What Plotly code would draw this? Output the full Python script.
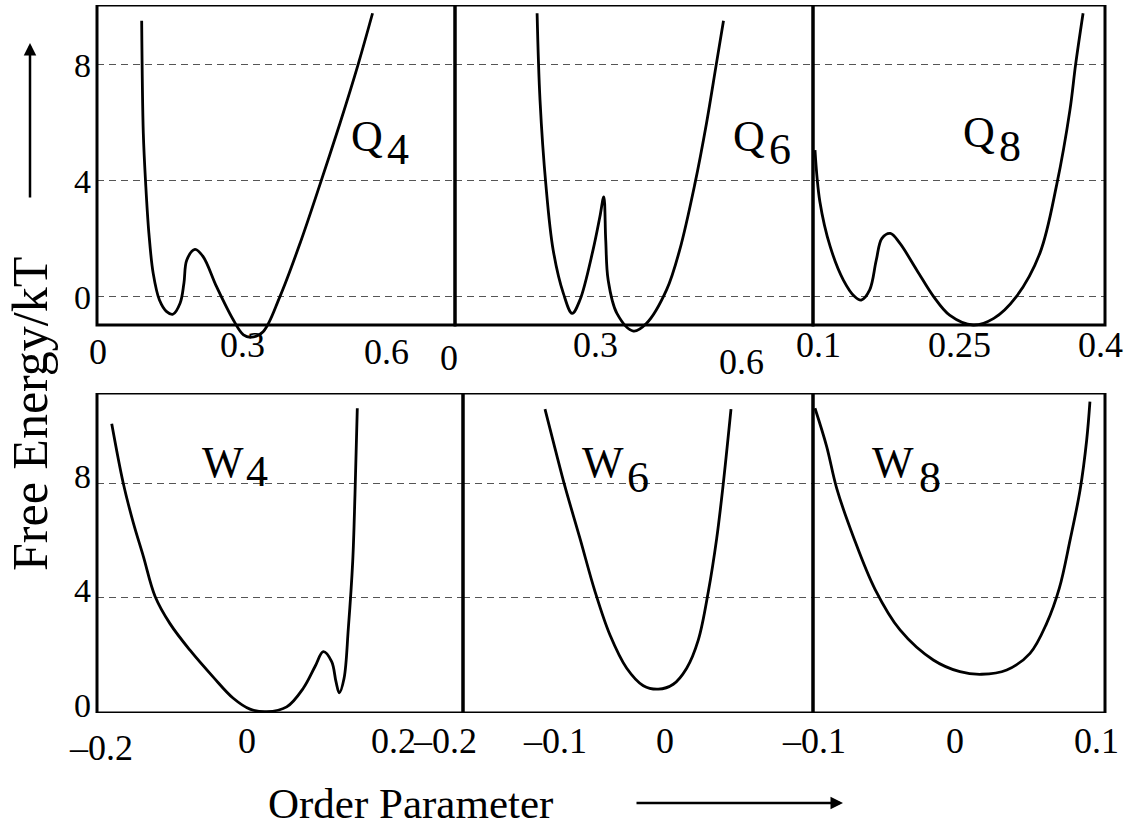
import plotly.graph_objects as go

W, H = 1132, 829
FONT = "Liberation Serif"

# ---------------- data ----------------
q4_x = [0.091, 0.0944, 0.0994, 0.106, 0.115, 0.128, 0.143, 0.156, 0.171, 0.179, 0.185, 0.202,
        0.219, 0.247, 0.282, 0.303, 0.320, 0.344, 0.379, 0.421, 0.4625, 0.504, 0.542, 0.572]
q4_y = [9.49, 5.61, 3.85, 2.17, 0.78, -0.14, -0.54, -0.63, -0.25, 0.44, 1.24, 1.61,
        1.36, 0.32, -0.83, -1.34, -1.42, -1.23, -0.02, 1.82, 3.85, 5.95, 7.99, 9.75]

q6_x = [0.181, 0.187, 0.199, 0.214, 0.235, 0.253, 0.269, 0.296, 0.310, 0.318, 0.322,
        0.327, 0.345, 0.379, 0.406, 0.447, 0.474, 0.505, 0.529, 0.549, 0.564]
q6_y = [9.75, 6.76, 3.85, 1.59, 0.09, -0.6, -0.14, 1.59, 2.73, 3.42, 1.93,
        0.55, -0.6, -1.21, -0.94, 0.21, 1.59, 3.85, 5.95, 7.97, 9.49]

q8_x = [0.0968, 0.102, 0.113, 0.127, 0.139, 0.146, 0.155, 0.162, 0.168, 0.177, 0.187,
        0.205, 0.223, 0.240, 0.265, 0.287, 0.311, 0.336, 0.354, 0.368, 0.374, 0.382]
q8_y = [5.03, 3.25, 1.7, 0.55, -0.02, -0.14, 0.21, 1.24, 1.99, 2.16, 1.82,
        0.9, -0.02, -0.66, -1.0, -0.77, -0.02, 1.47, 3.85, 6.41, 7.97, 9.75]

w4_x = [-0.1853, -0.1695, -0.1558, -0.1421, -0.126, -0.1055, -0.0781, -0.0462, -0.0188, 0.0041,
        0.027, 0.0544, 0.0771, 0.0932, 0.1045, 0.116, 0.1219, 0.1264, 0.1329, 0.1388,
        0.1448, 0.1479, 0.1511]
w4_y = [10.08, 8.0, 6.62, 5.45, 4.05, 3.09, 2.16, 1.22, 0.48, 0.10,
        0.01, 0.18, 0.83, 1.59, 2.11, 1.76, 1.06, 0.67, 1.17, 2.92,
        5.26, 7.59, 10.62]

w6_x = [-0.1091, -0.1, -0.0909, -0.0773, -0.0636, -0.05, -0.0348, -0.0197, -0.0061,
        0.0075, 0.0197, 0.0303, 0.0394, 0.047, 0.0525, 0.06]
w6_y = [10.59, 9.22, 7.88, 6.07, 4.21, 2.69, 1.53, 0.92, 0.80,
        0.97, 1.53, 2.52, 4.21, 6.07, 7.82, 10.59]

w8_x = [-0.0993, -0.091, -0.0839, -0.0721, -0.0567, -0.039, -0.0154, 0.0035, 0.0189,
        0.0367, 0.0532, 0.065, 0.074, 0.0816, 0.0887, 0.0934, 0.0957]
w8_y = [10.62, 9.28, 7.82, 6.13, 4.29, 2.87, 1.82, 1.41, 1.32,
        1.47, 2.05, 3.10, 4.33, 6.01, 7.76, 9.51, 10.85]

y_ticks = [0, 4, 8]
q4_ticks = [0, 0.3, 0.6]
q6_ticks = [0, 0.3, 0.6]
q8_ticks = [0.1, 0.25, 0.4]
w4_ticks = [-0.2, 0, 0.2]
w6_ticks = [-0.2, -0.1, 0]
w8_ticks = [-0.1, 0, 0.1]

panel_names = [("Q", "4"), ("Q", "6"), ("Q", "8"), ("W", "4"), ("W", "6"), ("W", "8")]
y_title = "Free Energy/kT"
x_title = "Order Parameter"

# ---------------- layout geometry (pixels) ----------------
def fx(px):
    return px / W

def fy(py):
    return (H - py) / H

def fmt(v):
    return ("%g" % v).replace("-", "\u2013")

TOP = dict(y0=296.0, ys=29.0, frame=(5, 325), dom=(5, 345), lab_shift=-2)
BOT = dict(y0=712.0, ys=28.6, frame=(393, 713), dom=(393, 713), lab_shift=7)

panels = [
    (q4_x, q4_y, (97, 455), 98.0, 480.0, TOP, q4_ticks, [352, 345, 352]),
    (q6_x, q6_y, (455, 813), 449.0, 486.7, TOP, q6_ticks, [358, 345, 362]),
    (q8_x, q8_y, (813, 1105), 818.0 - 0.1 * 940.0, 940.0, TOP, q8_ticks, [345, 345, 345]),
    (w4_x, w4_y, (97, 463), 247.0, 730.0, BOT, w4_ticks, [748, 741, 741]),
    (w6_x, w6_y, (463, 813), 665.0, 1100.0, BOT, w6_ticks, [741, 741, 741]),
    (w8_x, w8_y, (813, 1105), 955.0, 1410.0, BOT, w8_ticks, [741, 741, 741]),
]

label_pos = [
    ((367, 137), (398, 149)),
    ((749, 137), (780, 149)),
    ((979, 132), (1010, 147)),
    ((223, 462), (257, 471)),
    ((603, 462), (638, 477)),
    ((893, 462), (930, 477)),
]

fig = go.Figure()
layout = dict(
    width=W, height=H,
    margin=dict(l=0, r=0, t=0, b=0),
    paper_bgcolor="white", plot_bgcolor="white",
    showlegend=False,
    font=dict(family=FONT, color="black"),
)
shapes = []
annotations = []

for i, (xs, ys, (fl, fr), x0px, xsc, row, ticks, tick_py) in enumerate(panels):
    n = "" if i == 0 else str(i + 1)
    xr = [(fl - x0px) / xsc, (fr - x0px) / xsc]
    yr = [(row["y0"] - row["dom"][1]) / row["ys"], (row["y0"] - row["dom"][0]) / row["ys"]]
    layout["xaxis" + n] = dict(
        domain=[fx(fl), fx(fr)], range=xr, anchor="y" + n,
        showgrid=False, zeroline=False, showline=False, showticklabels=False, ticks="",
    )
    layout["yaxis" + n] = dict(
        domain=[fy(row["dom"][1]), fy(row["dom"][0])], range=yr, anchor="x" + n,
        tickvals=y_ticks, showgrid=True, gridcolor="#555", gridwidth=1, griddash="7px,5px",
        zeroline=False, showline=False, ticks="", showticklabels=False,
    )
    fig.add_trace(go.Scatter(
        x=xs, y=ys, mode="lines", xaxis="x" + n, yaxis="y" + n,
        line=dict(color="black", width=2.8, shape="spline", smoothing=1.0),
        hoverinfo="skip",
    ))
    fb = (row["y0"] - row["frame"][1]) / row["ys"]
    ft = (row["y0"] - row["frame"][0]) / row["ys"]
    shapes.append(dict(type="rect", xref="x" + n + " domain", yref="y" + n,
                       x0=0, x1=1, y0=fb, y1=ft, line=dict(color="black", width=3),
                       fillcolor="rgba(0,0,0,0)", layer="above"))
    if i in (0, 3):
        for v in y_ticks:
            annotations.append(dict(text=str(v), x=fx(93), y=v, xref="paper", yref="y" + n,
                                    xanchor="right", yanchor="middle", showarrow=False,
                                    yshift=row["lab_shift"],
                                    font=dict(family=FONT, size=34, color="black")))
    for v, py in zip(ticks, tick_py):
        px = x0px + v * xsc
        annotations.append(dict(text=fmt(v), x=fx(px), y=fy(py), xref="paper", yref="paper",
                                xanchor="center", yanchor="middle", showarrow=False,
                                font=dict(family=FONT, size=36, color="black")))
    (lx, ly), (dx, dy) = label_pos[i]
    letter, digit = panel_names[i]
    annotations.append(dict(text=letter, x=fx(lx), y=fy(ly), xref="paper", yref="paper",
                            xanchor="center", yanchor="middle", showarrow=False,
                            font=dict(family=FONT, size=44, color="black")))
    annotations.append(dict(text=digit, x=fx(dx), y=fy(dy), xref="paper", yref="paper",
                            xanchor="center", yanchor="middle", showarrow=False,
                            font=dict(family=FONT, size=44, color="black")))

annotations.append(dict(text=y_title, x=fx(30), y=fy(414), xref="paper", yref="paper",
                        xanchor="center", yanchor="middle", textangle=-90, showarrow=False,
                        font=dict(family=FONT, size=50, color="black")))
annotations.append(dict(text=x_title, x=fx(410), y=fy(803), xref="paper", yref="paper",
                        xanchor="center", yanchor="middle", showarrow=False,
                        font=dict(family=FONT, size=43, color="black")))
annotations.append(dict(text="", x=fx(30), y=fy(43), xref="paper", yref="paper",
                        ax=0, ay=156, showarrow=True, arrowhead=2, arrowsize=1.0,
                        arrowwidth=2.5, arrowcolor="black"))
annotations.append(dict(text="", x=fx(843), y=fy(803), xref="paper", yref="paper",
                        ax=-208, ay=0, showarrow=True, arrowhead=2, arrowsize=1.0,
                        arrowwidth=2.5, arrowcolor="black"))

layout["shapes"] = shapes
layout["annotations"] = annotations
fig.update_layout(**layout)
fig.write_html("out.html")
